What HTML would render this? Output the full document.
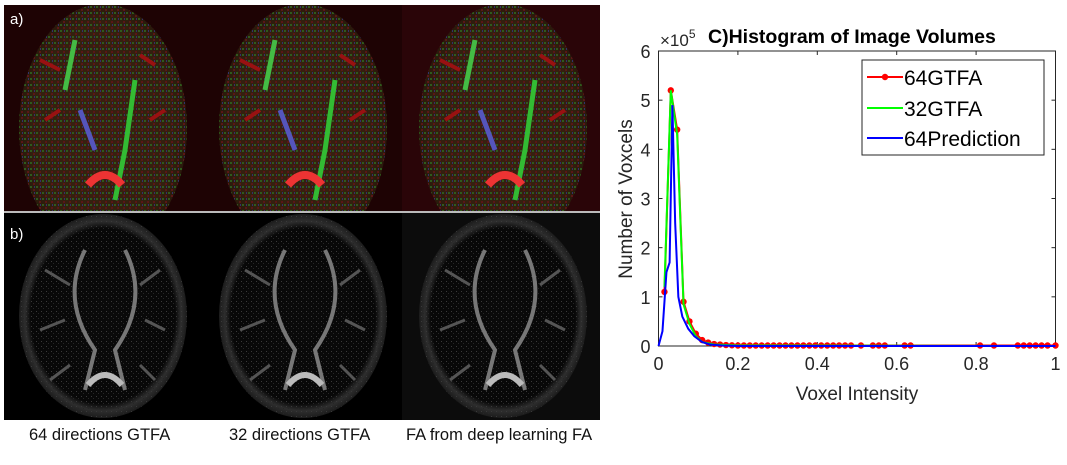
<!DOCTYPE html>
<html><head><meta charset="utf-8"><style>
body{margin:0;background:#fff;width:1067px;height:465px;overflow:hidden;font-family:"Liberation Sans",sans-serif;position:relative}
.cap{position:absolute;top:426px;font-size:16.5px;color:#111;white-space:nowrap}
</style></head><body>
<svg width="600" height="425" style="position:absolute;left:0;top:0">
<defs>
<radialGradient id="ga" cx="50%" cy="50%" r="50%"><stop offset="0" stop-color="#3a2010"/><stop offset="0.85" stop-color="#33200f"/><stop offset="1" stop-color="#2a1a0c"/></radialGradient>
<radialGradient id="gb" cx="50%" cy="50%" r="50%"><stop offset="0" stop-color="#0a0a0a"/><stop offset="0.86" stop-color="#080808"/><stop offset="0.93" stop-color="#2e2e2e"/><stop offset="1" stop-color="#1c1c1c"/></radialGradient>
<pattern id="noise" width="6" height="6" patternUnits="userSpaceOnUse"><rect x="0" y="0" width="2" height="2" fill="#2f5a1c"/><rect x="3" y="3" width="2" height="2" fill="#5a1616"/><rect x="4" y="0" width="1" height="2" fill="#32326a"/></pattern>
<pattern id="noiseg" width="5" height="5" patternUnits="userSpaceOnUse"><rect x="1" y="1" width="1" height="1" fill="#3a3a3a"/><rect x="3" y="3" width="1" height="1" fill="#262626"/></pattern>
<clipPath id="clipA"><rect x="4" y="5" width="596" height="206"/></clipPath>
<clipPath id="clipB"><rect x="4" y="213" width="596" height="207"/></clipPath>
</defs>
<rect x="4" y="5" width="596" height="206" fill="#1e0304"/>
<rect x="402" y="5" width="198" height="206" fill="#2a0508"/>
<rect x="4" y="211" width="596" height="2" fill="#bbb"/>
<rect x="4" y="213" width="596" height="207" fill="#000"/>
<rect x="402" y="213" width="198" height="207" fill="#0c0c0c"/>
<g clip-path="url(#clipA)">
<g id="ca">
<ellipse cx="103" cy="128" rx="84" ry="124" fill="url(#ga)"/>
<ellipse cx="103" cy="128" rx="84" ry="124" fill="url(#noise)"/>
<path d="M75 40 L65 90" stroke="#4b4" stroke-width="5"/>
<path d="M135 80 L125 150 L115 200" stroke="#3b3" stroke-width="5" fill="none"/>
<path d="M80 110 L95 150" stroke="#55b" stroke-width="5"/>
<path d="M88 185 Q105 165 122 185" stroke="#e33" stroke-width="8" fill="none"/>
<path d="M40 60 L60 70 M140 55 L155 65 M45 120 L60 110 M150 120 L165 110" stroke="#911" stroke-width="4"/>
</g>
<use href="#ca" x="200"/>
<use href="#ca" x="400"/>
</g>
<g clip-path="url(#clipB)">
<g id="cb">
<ellipse cx="103" cy="316" rx="84" ry="102" fill="url(#gb)"/>
<ellipse cx="103" cy="316" rx="84" ry="102" fill="url(#noiseg)"/>
<path d="M85 250 Q60 300 95 350 L85 390 M125 250 Q150 300 115 350 L125 390" stroke="#777" stroke-width="4" fill="none"/>
<path d="M88 385 Q105 365 122 385" stroke="#bbb" stroke-width="6" fill="none"/>
<path d="M45 270 L70 285 M160 270 L140 285 M40 330 L65 320 M165 330 L145 320 M50 380 L70 365 M155 380 L140 365" stroke="#555" stroke-width="3"/>
</g>
<use href="#cb" x="200"/>
<use href="#cb" x="400"/>
</g>
<text x="10" y="24" fill="#fff" font-size="15">a)</text>
<text x="10" y="239" fill="#fff" font-size="15">b)</text>
</svg>
<div class="cap" style="left:29px">64 directions GTFA</div>
<div class="cap" style="left:229px">32 directions GTFA</div>
<div class="cap" style="left:406px">FA from deep learning FA</div>

<svg id="chart" width="1067" height="465" style="position:absolute;left:0;top:0"></svg>
<script>
const xTicks=[0,0.2,0.4,0.6,0.8,1];
const xTickLabels=["0","0.2","0.4","0.6","0.8","1"];
const yTicks=[0,1,2,3,4,5,6];
const gtfa64X=[0.015,0.031,0.047,0.063,0.078,0.094,0.11,0.125,0.14,0.155,0.17,0.185,0.2,0.215,0.23,0.245,0.26,0.275,0.29,0.305,0.32,0.335,0.35,0.365,0.38,0.395,0.41,0.425,0.44,0.455,0.47,0.485,0.51,0.54,0.555,0.57,0.62,0.635,0.81,0.845,0.905,0.92,0.935,0.95,0.965,0.98,1.0];
const gtfa64Y=[1.1,5.2,4.4,0.9,0.5,0.25,0.12,0.07,0.04,0.03,0.02,0.015,0.01,0.01,0.01,0.01,0.01,0.01,0.01,0.01,0.01,0.01,0.01,0.01,0.01,0.01,0.01,0.01,0.01,0.01,0.01,0.01,0.01,0.01,0.01,0.01,0.01,0.01,0.01,0.01,0.01,0.01,0.01,0.01,0.01,0.01,0.01];
const gtfa32X=[0.015,0.031,0.047,0.063,0.078,0.094,0.11,0.14,0.2,1.0];
const gtfa32Y=[1.2,5.2,4.3,0.85,0.45,0.2,0.08,0.03,0.01,0];
const predX=[0,0.01,0.02,0.028,0.035,0.042,0.05,0.06,0.075,0.09,0.11,0.13,0.16,0.2,1.0];
const predY=[0,0.3,1.5,1.7,4.9,2.5,1.0,0.6,0.35,0.2,0.08,0.03,0.01,0,0];
const NS='http://www.w3.org/2000/svg';
const svg=document.getElementById('chart');
const L=658.5,R=1055.5,T=51,B=346;
const sx=v=>L+(R-L)*v, sy=v=>B-(B-T)*v/6;
function mk(tag,attrs,parent){const e=document.createElementNS(NS,tag);for(const k in attrs)e.setAttribute(k,attrs[k]);(parent||svg).appendChild(e);return e;}
const ax=mk('rect',{x:L,y:T,width:R-L,height:B-T,fill:'#fff',stroke:'#262626','stroke-width':1});


xTicks.forEach((v,i)=>{
 mk('line',{x1:sx(v),x2:sx(v),y1:B,y2:B-4,stroke:'#262626'});
 mk('line',{x1:sx(v),x2:sx(v),y1:T,y2:T+4,stroke:'#262626'});
 const t=mk('text',{x:sx(v),y:B+24,'text-anchor':'middle','font-size':18,fill:'#262626'});
 t.textContent=xTickLabels[i];
 
 
});
yTicks.forEach(v=>{
 mk('line',{x1:L,x2:L+4,y1:sy(v),y2:sy(v),stroke:'#262626'});
 mk('line',{x1:R,x2:R-4,y1:sy(v),y2:sy(v),stroke:'#262626'});
 const t=mk('text',{x:L-8,y:sy(v)+7,'text-anchor':'end','font-size':18,fill:'#262626'});
 t.textContent=v;
 
 
});
function line(xs,ys,color,name){
 const p=mk('polyline',{points:xs.map((x,i)=>sx(x)+','+sy(ys[i])).join(' '),fill:'none',stroke:color,'stroke-width':2});
 
 
}
line(gtfa64X,gtfa64Y,'#f00','series-64gtfa');
gtfa64X.forEach((x,i)=>{const c=mk('circle',{cx:sx(x),cy:sy(gtfa64Y[i]),r:3.2,fill:'#f00'});
 
 });
line(gtfa32X,gtfa32Y,'#0f0','series-32gtfa');
line(predX,predY,'#00f','series-64prediction');
</script>
<svg width="1067" height="465" style="position:absolute;left:0;top:0">
<text x="660" y="46" font-size="17" fill="#262626">×10<tspan dy="-8" font-size="12">5</tspan></text>
<text x="708" y="43" font-size="19.5" font-weight="bold" fill="#000">C)Histogram of Image Volumes</text>
<text transform="translate(632,199) rotate(-90)" text-anchor="middle" font-size="19" fill="#262626">Number of Voxcels</text>
<text x="857" y="400" text-anchor="middle" font-size="19" fill="#262626">Voxel Intensity</text>
<g>
<rect x="862" y="60" width="182" height="95" fill="#fff" stroke="#262626"/>
<line x1="867" x2="903" y1="77" y2="77" stroke="#f00" stroke-width="2"/><circle cx="885" cy="77" r="3.2" fill="#f00"/>
<text x="904" y="85" font-size="21" fill="#000">64GTFA</text>
<line x1="867" x2="903" y1="108" y2="108" stroke="#0f0" stroke-width="2"/>
<text x="904" y="116" font-size="21" fill="#000">32GTFA</text>
<line x1="867" x2="903" y1="138" y2="138" stroke="#00f" stroke-width="2"/>
<text x="904" y="146" font-size="21" fill="#000">64Prediction</text>
</g>
</svg>
</body></html>
